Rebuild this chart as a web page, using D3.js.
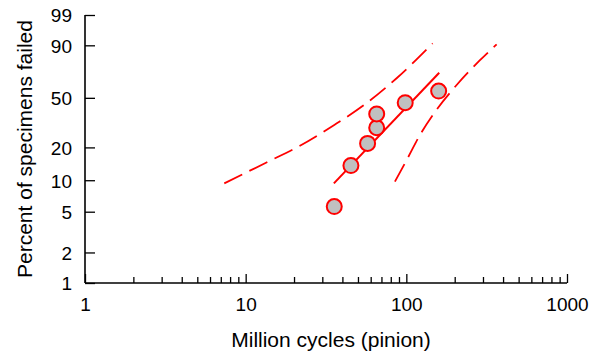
<!DOCTYPE html>
<html>
<head>
<meta charset="utf-8">
<script src="https://cdn.jsdelivr.net/npm/d3@7"></script>
<style>
  body { margin: 0; background: #fff; }
  text { font-family: "Liberation Sans", Arial, sans-serif; }
</style>
</head>
<body>
<svg id="chart" width="600" height="356"></svg>
<script>
// failures (million cycles) and median-rank percent failed
const cycles = [35.6, 45.2, 57.4, 65.4, 65.4, 98.4, 158.9];
const percentFailed = [5.6, 13.7, 21.7, 29.5, 38.1, 46.2, 55.5];

// fitted weibull line (end points)
const fitCycles = [35.4, 160.2];
const fitPercent = [9.35, 70.8];

// confidence bounds
const upperCycles = [7.36, 13.57, 21.25, 35.6, 55.3, 87.0, 145.8];
const upperPercent = [9.35, 14.7, 20.3, 31.1, 45.0, 66.2, 91.0];
const lowerCycles = [84.9, 101.9, 121.5, 152.2, 205.6, 284.2, 364.7];
const lowerPercent = [9.7, 16.0, 25.6, 40.1, 60.5, 80.0, 90.5];

// axis ticks
const xTicks = [1, 10, 100, 1000];
const xMinorTicks = [2, 3, 4, 5, 6, 7, 8, 9, 20, 30, 40, 50, 60, 70, 80, 90, 200, 300, 400, 500, 600, 700, 800, 900];
const yTicks = [1, 2, 5, 10, 20, 50, 90, 99];

let svg = d3.select("#chart");
let margin = { left: 85, right: 567, top: 15, bottom: 283 };

// weibull transform of a percentage
let ww = p => Math.log(-Math.log(1 - p / 100));

let x = d3.scaleLog().domain([1, 1000]).range([margin.left, margin.right]);
let y = d3.scaleLinear().domain([ww(1), ww(99)]).range([margin.bottom, margin.top]);
let py = p => y(ww(p));

// x axis, ticks pointing inward
let xAxis = svg.append("g")
  .attr("transform", "translate(0," + margin.bottom + ")")
  .call(d3.axisBottom(x).tickValues(xTicks).tickSize(-9).tickPadding(15).tickFormat(d3.format("d")));
svg.append("g")
  .attr("transform", "translate(0," + margin.bottom + ")")
  .call(d3.axisBottom(x).tickValues(xMinorTicks).tickSize(-6).tickFormat(""))
  .select(".domain").remove();

// y axis
let yAxis = svg.append("g")
  .attr("transform", "translate(" + margin.left + ",0)")
  .call(d3.axisLeft(y).tickValues(yTicks.map(ww)).tickSize(-10).tickPadding(13)
    .tickFormat((d, i) => yTicks[i]));

xAxis.select(".domain").attr("d", "M" + margin.left + ",0H" + margin.right);
yAxis.select(".domain").attr("d", "M0," + margin.top + "V" + margin.bottom);
svg.selectAll(".domain").attr("stroke", "#000").attr("stroke-width", 1.6);
svg.selectAll(".tick line").attr("stroke", "#000").attr("stroke-width", 1.3);
svg.selectAll(".tick text").attr("font-size", 19).attr("fill", "#000")
  .attr("font-family", "'Liberation Sans', Arial, sans-serif");
yAxis.selectAll("text").attr("dy", "0.36em");

// axis titles
svg.append("text")
  .attr("x", 331).attr("y", 347)
  .attr("text-anchor", "middle")
  .attr("font-size", 21)
  .text("Million cycles (pinion)");
svg.append("text")
  .attr("transform", "translate(32,149) rotate(-90)")
  .attr("text-anchor", "middle")
  .attr("font-size", 21)
  .text("Percent of specimens failed");

// fitted line
let line = d3.line().x(d => x(d[0])).y(d => py(d[1]));
svg.append("path")
  .datum(d3.zip(fitCycles, fitPercent))
  .attr("fill", "none")
  .attr("stroke", "#ff0000")
  .attr("stroke-width", 2)
  .attr("d", line);

// data points
svg.append("g").selectAll("circle")
  .data(d3.zip(cycles, percentFailed))
  .enter()
  .append("circle")
  .attr("cx", d => x(d[0]))
  .attr("cy", d => py(d[1]))
  .attr("r", 7.5)
  .attr("fill", "#c0c0c0")
  .attr("stroke", "#ff0000")
  .attr("stroke-width", 2);

// confidence bounds
let curve = d3.line().x(d => x(d[0])).y(d => py(d[1])).curve(d3.curveMonotoneX);
[[upperCycles, upperPercent], [lowerCycles, lowerPercent]].forEach(b => {
  svg.append("path")
    .datum(d3.zip(b[0], b[1]))
    .attr("fill", "none")
    .attr("stroke", "#ff0000")
    .attr("stroke-width", 1.8)
    .attr("stroke-dasharray", "20,8")
    .attr("d", curve);
});
</script>
</body>
</html>
